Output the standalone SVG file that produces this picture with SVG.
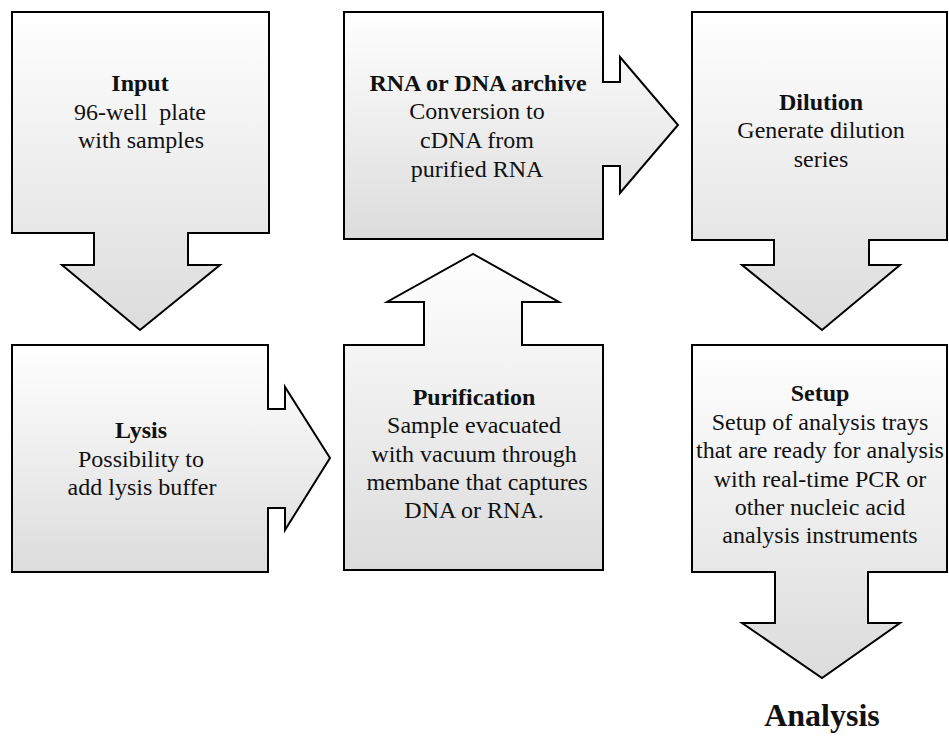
<svg xmlns="http://www.w3.org/2000/svg" width="949" height="738" viewBox="0 0 949 738">
<defs>
<linearGradient id="g" x1="0" y1="0" x2="0" y2="1">
<stop offset="0" stop-color="#ffffff"/>
<stop offset="1" stop-color="#dcdcdc"/>
</linearGradient>
<style>
.s{fill:url(#g);stroke:#000;stroke-width:2;stroke-linejoin:miter}
.t{font-family:"Liberation Serif","Times New Roman",serif;font-size:24px;fill:#111;text-anchor:middle}
.b{font-weight:bold}
</style>
</defs>
<rect width="949" height="738" fill="#fff"/>
<g id="input">
<path class="s" d="M12,12 H269 V233 H188 V265 H220 L140,330 L62,265 H94 V233 H12 Z"/>
<text class="t b" x="140" y="91">Input</text>
<text class="t" x="140" y="120" xml:space="preserve">96-well  plate</text>
<text class="t" x="141" y="148">with samples</text>
</g>
<g id="lysis">
<path class="s" d="M12,345 H268 V409 H285 V387 L330,458 L285,530 V508 H268 V572 H12 Z"/>
<text class="t b" x="141" y="438">Lysis</text>
<text class="t" x="141" y="467">Possibility to</text>
<text class="t" x="142" y="495">add lysis buffer</text>
</g>
<g id="purification">
<path class="s" d="M344,345 H424 V302 H387 L473,254 L559,302 H522 V345 H603 V570 H344 Z"/>
<text class="t b" x="474" y="405">Purification</text>
<text class="t" x="474" y="433">Sample evacuated</text>
<text class="t" x="474" y="462">with vacuum through</text>
<text class="t" x="477" y="490">membane that captures</text>
<text class="t" x="474" y="518">DNA or RNA.</text>
</g>
<g id="archive">
<path class="s" d="M344,12 H603 V82 H620 V57 L678,125 L620,193 V166 H603 V239 H344 Z"/>
<text class="t b" x="478" y="91">RNA or DNA archive</text>
<text class="t" x="477" y="119">Conversion to</text>
<text class="t" x="477" y="148">cDNA from</text>
<text class="t" x="477" y="177">purified RNA</text>
</g>
<g id="dilution">
<path class="s" d="M692,12 H947 V240 H869 V265 H900 L822,330 L742,265 H774 V240 H692 Z"/>
<text class="t b" x="821" y="110">Dilution</text>
<text class="t" x="821" y="138">Generate dilution</text>
<text class="t" x="821" y="167">series</text>
</g>
<g id="setup">
<path class="s" d="M692,345 H947 V572 H868 V623 H900 L822,678 L742,623 H775 V572 H692 Z"/>
<text class="t b" x="820" y="401">Setup</text>
<text class="t" x="820" y="430">Setup of analysis trays</text>
<text class="t" x="820" y="458">that are ready for analysis</text>
<text class="t" x="820" y="487">with real-time PCR or</text>
<text class="t" x="820" y="515">other nucleic acid</text>
<text class="t" x="820" y="543">analysis instruments</text>
</g>
<g id="analysis">
<text class="t b" x="822" y="726" style="font-size:32px">Analysis</text>
</g>
<g id="connectors"/>
</svg>
